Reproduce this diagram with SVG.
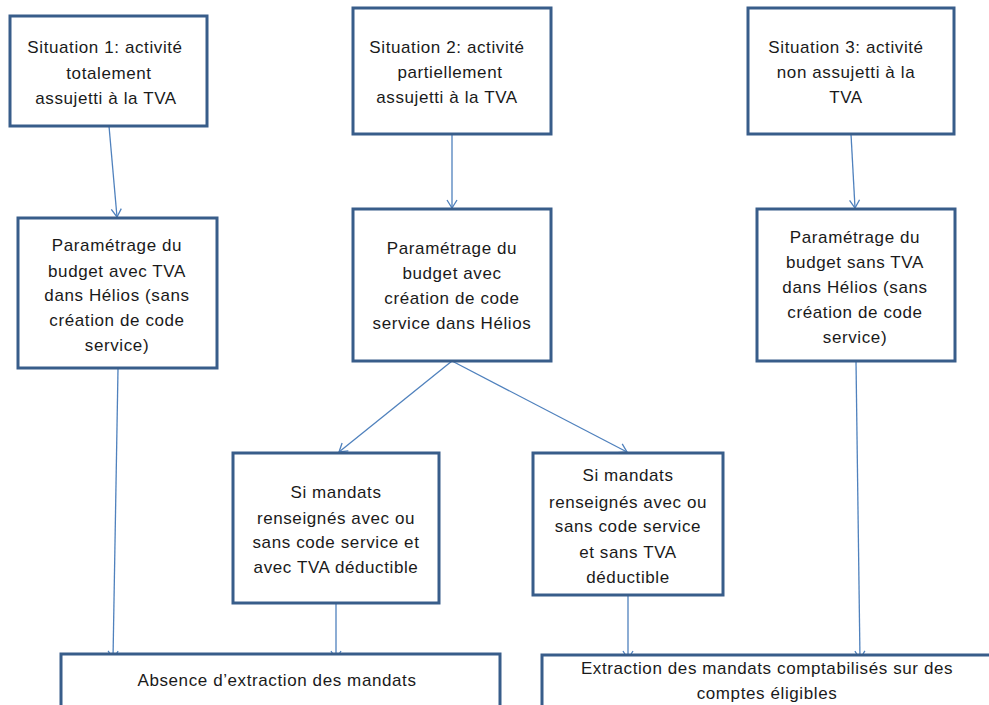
<svg xmlns="http://www.w3.org/2000/svg" width="989" height="705" viewBox="0 0 989 705">
<style>
.box{fill:#fff;stroke:#385D8A;stroke-width:3}
.t{font-family:"Liberation Sans",Arial,sans-serif;font-size:17px;fill:#1a1a1a;text-anchor:middle;letter-spacing:0.6px}
.c{stroke:#4F81BD;stroke-width:1.3;fill:none}
</style>
<defs>
<marker id="ah" markerUnits="userSpaceOnUse" markerWidth="14" markerHeight="14" refX="9" refY="6" orient="auto">
<path d="M1,1 L9,6 L1,11" fill="none" stroke="#4F81BD" stroke-width="1.3"/>
</marker>
</defs>
<rect width="989" height="705" fill="#fff"/>
<g id="connectors">
<line class="c" x1="109" y1="126" x2="117" y2="217" marker-end="url(#ah)"/>
<line class="c" x1="452" y1="134" x2="452" y2="208" marker-end="url(#ah)"/>
<line class="c" x1="851" y1="134" x2="855" y2="208" marker-end="url(#ah)"/>
<line class="c" x1="452" y1="361" x2="339" y2="452" marker-end="url(#ah)"/>
<line class="c" x1="452" y1="361" x2="627" y2="452" marker-end="url(#ah)"/>
<line class="c" x1="118" y1="369" x2="113" y2="659" marker-end="url(#ah)"/>
<line class="c" x1="336" y1="603" x2="336" y2="659" marker-end="url(#ah)"/>
<line class="c" x1="628" y1="595" x2="628" y2="659" marker-end="url(#ah)"/>
<line class="c" x1="856" y1="361" x2="860" y2="659" marker-end="url(#ah)"/>
</g>
<g id="s1">
<rect class="box" x="10" y="16" width="197" height="110"/>
<text class="t" x="105" y="53">Situation 1: activité</text>
<text class="t" x="109" y="79">totalement</text>
<text class="t" x="106" y="104">assujetti à la TVA</text>
</g>
<g id="s2">
<rect class="box" x="353" y="8" width="198" height="126"/>
<text class="t" x="447" y="53">Situation 2: activité</text>
<text class="t" x="450" y="78">partiellement</text>
<text class="t" x="447" y="103">assujetti à la TVA</text>
</g>
<g id="s3">
<rect class="box" x="748" y="8" width="206" height="126"/>
<text class="t" x="846" y="53">Situation 3: activité</text>
<text class="t" x="846" y="78">non assujetti à la</text>
<text class="t" x="846" y="103">TVA</text>
</g>
<g id="p1">
<rect class="box" x="18" y="218" width="199" height="150"/>
<text class="t" x="117" y="251">Paramétrage du</text>
<text class="t" x="117" y="277">budget avec TVA</text>
<text class="t" x="117" y="301">dans Hélios (sans</text>
<text class="t" x="117" y="326">création de code</text>
<text class="t" x="117" y="351">service)</text>
</g>
<g id="p2">
<rect class="box" x="353" y="209" width="198" height="152"/>
<text class="t" x="452" y="254">Paramétrage du</text>
<text class="t" x="452" y="279">budget avec</text>
<text class="t" x="452" y="304">création de code</text>
<text class="t" x="452" y="329">service dans Hélios</text>
</g>
<g id="p3">
<rect class="box" x="757" y="209" width="198" height="152"/>
<text class="t" x="855" y="243">Paramétrage du</text>
<text class="t" x="855" y="268">budget sans TVA</text>
<text class="t" x="855" y="293">dans Hélios (sans</text>
<text class="t" x="855" y="318">création de code</text>
<text class="t" x="855" y="343">service)</text>
</g>
<g id="m1">
<rect class="box" x="233" y="453" width="206" height="150"/>
<text class="t" x="336" y="498">Si mandats</text>
<text class="t" x="336" y="524">renseignés avec ou</text>
<text class="t" x="336" y="548">sans code service et</text>
<text class="t" x="336" y="573">avec TVA déductible</text>
</g>
<g id="m2">
<rect class="box" x="533" y="453" width="190" height="142"/>
<text class="t" x="628" y="481">Si mandats</text>
<text class="t" x="628" y="508">renseignés avec ou</text>
<text class="t" x="628" y="532">sans code service</text>
<text class="t" x="628" y="558">et sans TVA</text>
<text class="t" x="628" y="583">déductible</text>
</g>
<g id="r1">
<rect class="box" x="61" y="654" width="439" height="80"/>
<text class="t" x="277" y="686">Absence d’extraction des mandats</text>
</g>
<g id="r2">
<rect class="box" x="542" y="655" width="470" height="80"/>
<text class="t" x="767" y="674">Extraction des mandats comptabilisés sur des</text>
<text class="t" x="767" y="699">comptes éligibles</text>
</g>
</svg>
